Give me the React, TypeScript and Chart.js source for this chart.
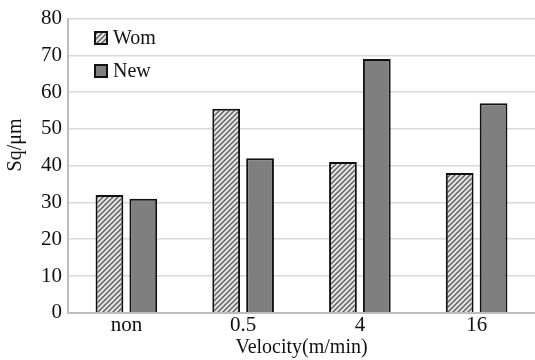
import React, { useEffect, useRef } from "react";
import { Chart, registerables } from "chart.js";

Chart.register(...registerables);

const categories = ["non", "0.5", "4", "16"];
const womValues = [32, 55.5, 41, 38];
const newValues = [31, 42, 69, 57];
const seriesNames = ["Wom", "New"];
const yTicks = [0, 10, 20, 30, 40, 50, 60, 70, 80];
const xTitle = "Velocity(m/min)";
const yTitle = "Sq/μm";

const FONT = "'Liberation Serif', 'Times New Roman', serif";

function makeHatch(): CanvasPattern | string {
  const c = document.createElement("canvas");
  const s = 5;
  c.width = s;
  c.height = s;
  const g = c.getContext("2d");
  if (!g) return "#ccc";
  g.fillStyle = "#e3e3e3";
  g.fillRect(0, 0, s, s);
  g.strokeStyle = "#5e5e5e";
  g.lineWidth = 1.4;
  g.beginPath();
  g.moveTo(-1, s + 1);
  g.lineTo(s + 1, -1);
  g.moveTo(-1, 1);
  g.lineTo(1, -1);
  g.moveTo(s - 1, s + 1);
  g.lineTo(s + 1, s - 1);
  g.stroke();
  const p = g.createPattern(c, "repeat");
  return p || "#ccc";
}

export default function App() {
  const ref = useRef<HTMLCanvasElement | null>(null);
  useEffect(() => {
    document.body.style.margin = "0";
    const canvas = ref.current;
    if (!canvas) return;
    const hatch = makeHatch();
    const solid = "#7f7f7f";
    const decorPlugin = {
      id: "decor",
      afterDraw(chart: any) {
        const ctx = chart.ctx;
        const fills = [hatch, solid];
        ctx.save();
        seriesNames.forEach((name, i) => {
          const x = 95;
          const cy = 38 + i * 33;
          ctx.fillStyle = fills[i] as any;
          ctx.fillRect(x, cy - 6, 12, 12);
          ctx.lineWidth = 2;
          ctx.strokeStyle = "#111";
          ctx.strokeRect(x, cy - 6, 12, 12);
          ctx.fillStyle = "#111";
          ctx.font = `20px ${FONT}`;
          ctx.textBaseline = "middle";
          ctx.textAlign = "left";
          ctx.fillText(name, x + 18, cy + 1);
        });
        // y axis title
        ctx.translate(16, 145);
        ctx.rotate(-Math.PI / 2);
        ctx.font = `20px ${FONT}`;
        ctx.textAlign = "center";
        ctx.textBaseline = "middle";
        ctx.fillStyle = "#111";
        ctx.fillText(yTitle, 0, 0);
        ctx.restore();
      },
    };
    const chart = new Chart(canvas, {
      type: "bar",
      data: {
        labels: categories,
        datasets: [
          {
            label: seriesNames[0],
            data: womValues,
            backgroundColor: hatch as any,
            borderColor: "#111",
            borderWidth: 2,
            categoryPercentage: 0.58,
            barPercentage: 0.82,
          },
          {
            label: seriesNames[1],
            data: newValues,
            backgroundColor: solid,
            borderColor: "#111",
            borderWidth: 2,
            categoryPercentage: 0.58,
            barPercentage: 0.82,
          },
        ],
      },
      options: {
        animation: false,
        responsive: false,
        layout: { padding: { top: -3, right: 0, left: 35, bottom: 0 } },
        plugins: {
          legend: { display: false },
          tooltip: { enabled: false },
        },
        scales: {
          x: {
            grid: { display: false, drawTicks: false },
            border: { color: "#bdbdbd", width: 2 },
            ticks: { color: "#111", font: { family: FONT, size: 21 }, padding: 0 },
            title: {
              display: true,
              text: xTitle,
              color: "#111",
              font: { family: FONT, size: 20 },
              padding: { top: -2, bottom: 0 },
            },
          },
          y: {
            min: 0,
            max: 80,
            afterBuildTicks(axis: any) {
              axis.ticks = yTicks.map((v) => ({ value: v }));
            },
            grid: { color: "#d9d9d9", lineWidth: 1.5, drawTicks: false },
            border: { color: "#bdbdbd", width: 2 },
            ticks: { color: "#111", font: { family: FONT, size: 21 }, padding: 6 },
          },
        },
      },
      plugins: [decorPlugin],
    });
    return () => chart.destroy();
  }, []);
  return (
    <div style={{ width: 535, height: 360 }}>
      <canvas ref={ref} width={535} height={360} style={{ display: "block" }} />
    </div>
  );
}
